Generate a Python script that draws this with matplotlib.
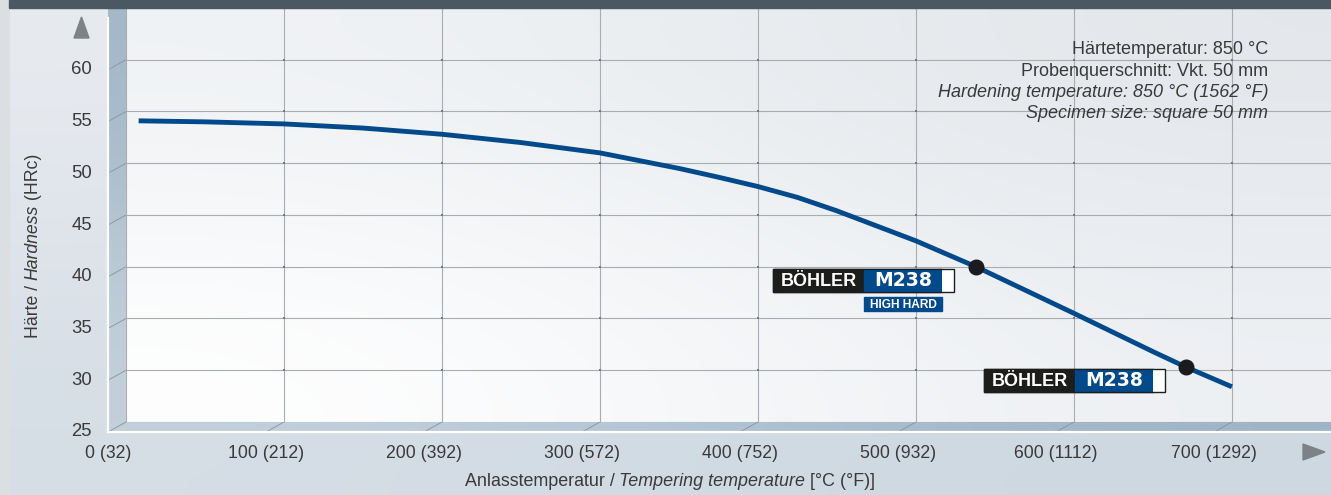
import numpy as np
import matplotlib.pyplot as plt
from matplotlib.patches import Polygon, Rectangle

plt.rcParams['font.family'] = ['Liberation Sans', 'DejaVu Sans']

# data
temps = [8, 50, 100, 150, 200, 250, 300, 350, 375, 400, 425, 450, 475, 500,
         538, 600, 650, 671, 700]
hardness = [54.1, 54.0, 53.8, 53.4, 52.8, 52.0, 51.0, 49.5, 48.65, 47.75, 46.7, 45.4,
            43.95, 42.5, 40.0, 35.5, 31.8, 30.3, 28.4]
marker_temps = [538, 671]
marker_hardness = [40.0, 30.3]

x_ticks = [0, 100, 200, 300, 400, 500, 600, 700]
x_tick_labels = ['0 (32)', '100 (212)', '200 (392)', '300 (572)', '400 (752)',
                 '500 (932)', '600 (1112)', '700 (1292)']
y_ticks = [25, 30, 35, 40, 45, 50, 55, 60]

info_lines = [('Härtetemperatur: 850 °C', 'normal'),
              ('Probenquerschnitt: Vkt. 50 mm', 'normal'),
              ('Hardening temperature: 850 °C (1562 °F)', 'italic'),
              ('Specimen size: square 50 mm', 'italic')]

W, H = 1331, 495
DX, DY = -18, 10          # depth offset of the pseudo 3d front edge (pixels)
TXT = '#3a3a3a'

fig = plt.figure(figsize=(W / 100, H / 100), dpi=100)

# background layer in pixel coordinates
bg = fig.add_axes([0, 0, 1, 1], zorder=-10)
bg.set_xlim(0, W)
bg.set_ylim(H, 0)
bg.axis('off')
bg_grad = np.array([[[0.91, 0.92, 0.94], [0.87, 0.89, 0.915]],
                    [[0.835, 0.87, 0.90], [0.80, 0.845, 0.88]]])
bg.imshow(bg_grad, extent=(0, W, H, 0), aspect='auto', interpolation='bicubic')
bg.add_patch(Rectangle((0, 0), 9, H, color='#dcdfe2'))

# main plotting area = back wall
ax = fig.add_axes([126 / W, 1 - 422 / H, (W - 126) / W, (422 - 8) / H])
wall_grad = np.array([[[0.94, 0.95, 0.96], [0.89, 0.905, 0.92]],
                      [[1.0, 1.0, 1.0], [0.93, 0.94, 0.955]]])
ax.imshow(wall_grad, extent=(0, 1, 0, 1), transform=ax.transAxes,
          aspect='auto', interpolation='bicubic', zorder=0)
ax.set_xlim(0, 762.7)
ax.set_ylim(25, 65)
ax.set_xticks(x_ticks)
ax.set_yticks(y_ticks)
ax.grid(True, color='#a9acb0', lw=0.8)
ax.tick_params(length=0, labelbottom=False, labelleft=False)
for s in ax.spines.values():
    s.set_visible(False)

gx, gy = np.meshgrid(x_ticks[1:], y_ticks[1:])
ax.plot(gx.ravel(), gy.ravel(), 's', ms=2.0, color='#74797e', mew=0, zorder=2)

ax.plot(temps, hardness, color='#004a8c', lw=3.5, solid_capstyle='butt',
        solid_joinstyle='round', zorder=3)
ax.plot(marker_temps, marker_hardness, 'o', color='#1b1b1f', ms=10.5, zorder=4)


def to_px(x, y):
    d = ax.transData.transform((x, y))
    return d[0], H - d[1]


# left side wall and floor
bx0, by_top = to_px(0, 65)
_, by_bot = to_px(0, 25)
side = Polygon([(bx0, by_top), (bx0, by_bot), (bx0 + DX, by_bot + DY), (bx0 + DX, by_top)],
               closed=True, facecolor='none', edgecolor='none', transform=bg.transData)
bg.add_patch(side)
im = bg.imshow(np.array([[[0.64, 0.72, 0.78]], [[0.77, 0.82, 0.86]]]),
               extent=(bx0 + DX, bx0, by_bot + DY, by_top), aspect='auto',
               interpolation='bicubic')
im.set_clip_path(side)

floor = Polygon([(bx0, by_bot), (W, by_bot), (W, by_bot + DY), (bx0 + DX, by_bot + DY)],
                closed=True, facecolor='none', edgecolor='none', transform=bg.transData)
bg.add_patch(floor)
im2 = bg.imshow(np.array([[[0.77, 0.82, 0.865], [0.62, 0.705, 0.775]]]),
                extent=(bx0 + DX, W, by_bot + DY, by_bot), aspect='auto',
                interpolation='bicubic')
im2.set_clip_path(floor)

bg.set_xlim(0, W)
bg.set_ylim(H, 0)

for v in y_ticks:
    px, py = to_px(0, v)
    bg.plot([px, px + DX], [py, py + DY], color='#8d99a4', lw=0.7)
    bg.text(px + DX - 16, py + DY, str(v), ha='right', va='center',
            fontsize=13.3, color=TXT)
for v, lab in zip(x_ticks, x_tick_labels):
    px, py = to_px(v, 25)
    if v > 0:
        bg.plot([px, px + DX], [py, py + DY], color='#8d99a4', lw=0.7)
    bg.text(px + DX, py + DY + 21, lab, ha='center', va='center',
            fontsize=12.7, color=TXT)

# white front edges
bg.plot([bx0 + DX, bx0 + DX], [by_top + DY, by_bot + DY], color='white', lw=1.6)
bg.plot([bx0 + DX, W], [by_bot + DY, by_bot + DY], color='white', lw=1.6)

# axis arrows
bg.add_patch(Polygon([(74, 38), (89, 38), (81.5, 17)], color='#7d8287'))
bg.add_patch(Polygon([(1303, 444), (1303, 460), (1325, 452)], color='#7d8287'))

# axis titles with mixed italic parts
x_parts = [('Anlasstemperatur / ', 'normal'), ('Tempering temperature', 'italic'),
           (' [°C (°F)]', 'normal')]
first = bg.text(0, 481, x_parts[0][0], ha='left', va='center', fontsize=12.9,
                style=x_parts[0][1], color=TXT)
xt = [first]
for s, st in x_parts[1:]:
    xt.append(bg.annotate(s, xy=(1, 0), xycoords=xt[-1], ha='left', va='bottom',
                          fontsize=12.9, style=st, color=TXT))

y_parts = [('Härte / ', 'normal'), ('Hardness', 'italic'), (' (HRc)', 'normal')]
yfirst = bg.text(33, 0, y_parts[0][0], ha='center', va='bottom', rotation=90,
                 fontsize=12.7, style=y_parts[0][1], color=TXT)
yt = [yfirst]
for s, st in y_parts[1:]:
    yt.append(bg.annotate(s, xy=(0, 1), xycoords=yt[-1], ha='left', va='bottom',
                          rotation=90, fontsize=12.7, style=st, color=TXT))

fig.canvas.draw()
r = fig.canvas.get_renderer()
wtot = sum(t.get_window_extent(r).width for t in xt)
first.set_x(670 - wtot / 2)
htot = sum(t.get_window_extent(r).height for t in yt)
yfirst.set_y(246 + htot / 2)

# info text top right
for i, (s, st) in enumerate(info_lines):
    ax.text(0.948, 0.8986 - i * 0.0515, s, transform=ax.transAxes, ha='right',
            va='center', fontsize=13, style=st, color=TXT, zorder=5)

# overlay: title band and brand labels
top = fig.add_axes([0, 0, 1, 1], zorder=10)
top.set_xlim(0, W)
top.set_ylim(H, 0)
top.axis('off')
top.patch.set_alpha(0)
top.add_patch(Rectangle((9, 0), W - 9, 8, color='#4b5761'))


def brand(x0, y0, sub):
    top.add_patch(Rectangle((x0, y0), 91, 23, color='#1d1d1b'))
    top.add_patch(Rectangle((x0 + 91, y0), 78, 23, color='#004a8c'))
    top.add_patch(Rectangle((x0 + 169, y0), 12, 23, facecolor='white', edgecolor='none'))
    top.add_patch(Rectangle((x0, y0), 181, 23, facecolor='none', edgecolor='#1d1d1b', lw=1))
    top.text(x0 + 45.5, y0 + 12, 'BÖHLER', color='white', fontsize=13, fontweight='bold',
             ha='center', va='center')
    top.text(x0 + 130, y0 + 12, 'M238', color='white', fontsize=13.5, fontweight='bold',
             family='DejaVu Sans', ha='center', va='center')
    if sub:
        top.add_patch(Rectangle((x0 + 91, y0 + 28), 78, 14, color='#004a8c'))
        top.text(x0 + 130, y0 + 35.5, 'HIGH HARD', color='white', fontsize=8.6,
                 fontweight='bold', ha='center', va='center')


brand(773, 269, True)
brand(984, 369, False)

fig.savefig('out.png', dpi=100)
